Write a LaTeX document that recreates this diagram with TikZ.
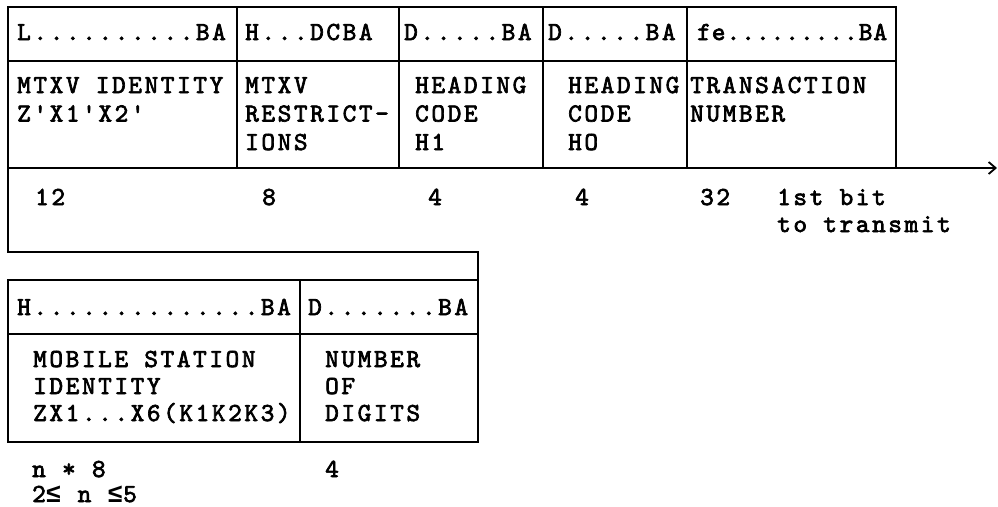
\documentclass[tikz,border=0pt]{standalone}
\usepackage{fontspec}
\newfontfamily\twfont{lmmono10-regular.otf}[LetterSpace=10,FakeBold=2.6]
\newfontfamily\twfonttight{lmmono10-regular.otf}[LetterSpace=4,FakeBold=2.6]
\newfontfamily\symfont{Liberation Mono Bold}
\usetikzlibrary{arrows.meta}
\begin{document}
\begin{tikzpicture}[x=1pt,y=-1pt,
  lbl/.style={anchor=base west, inner sep=0pt, align=left,
    font=\twfont\fontsize{26}{28.5}\selectfont},
  lblb/.style={lbl, font=\twfont\fontsize{26}{27}\selectfont},
  frame/.style={line width=1.8pt, line cap=rect},
  arr/.style={line width=1.8pt, -{Straight Barb[length=7pt,width=12pt,line width=1.8pt]}}]
\useasboundingbox (0,0) rectangle (998,506);
% top frame
\draw[frame] (8,7) rectangle (896,168);
\draw[frame] (8,61) -- (896,61);
\foreach \x in {237,399,543,687} \draw[frame] (\x,7) -- (\x,168);
\draw[frame] (8,168) -- (8,252) -- (478,252) -- (478,442);
% lower box
\draw[frame] (8,280) rectangle (478,442);
\draw[frame] (8,334) -- (478,334);
\draw[frame] (300,280) -- (300,442);
% arrow
\coordinate (aout) at (896,168);
\coordinate (aend) at (997,168);
\draw[arr] (aout) -- (aend);
% top headers
\node[lbl] (h1) at (17,40) {L..........BA};
\node[lbl] (h2) at (245,40) {H...DCBA};
\node[lbl] (h3) at (404,40) {D.....BA};
\node[lbl] (h4) at (548,40) {D.....BA};
\node[lbl, font=\twfonttight\fontsize{26}{28.5}\selectfont] (h5) at (697,40) {fe.........BA};
% top fields (anchor = baseline of last line)
\node[lbl] (f1) at (17,121.5) {MTXV IDENTITY\\Z'X1'X2'};
\node[lbl] (f2) at (245,150) {MTXV\\RESTRICT-\\IONS};
\node[lbl] (f3) at (415,150) {HEADING\\CODE\\H1};
\node[lbl] (f4) at (568,150) {HEADING\\CODE\\HO};
\node[lbl] (f5) at (690,121.5) {TRANSACTION\\NUMBER};
% sizes
\node[lbl] (n1) at (35,205) {12};
\node[lbl] (n2) at (262,205) {8};
\node[lbl] (n3) at (428,205) {4};
\node[lbl] (n4) at (575,205) {4};
\node[lbl] (n5) at (700,205) {32};
\node[lblb] (first) at (777,232) {1st bit\\to transmit};
% lower headers
\node[lbl] (lh1) at (17,315) {H..............BA};
\node[lbl] (lh2) at (308,315) {D.......BA};
\node[lblb] (lf1) at (33,421) {MOBILE STATION\\IDENTITY\\ZX1...X6(K1K2K3)};
\node[lblb] (lf2) at (325,421) {NUMBER\\OF\\DIGITS};
\node[lbl, font=\twfont\fontsize{26}{25}\selectfont] (ln1) at (32,502) {n * 8\\2{\symfont ≤} n {\symfont ≤}5};
\node[lbl] (ln2) at (325,477) {4};
\end{tikzpicture}
\end{document}
